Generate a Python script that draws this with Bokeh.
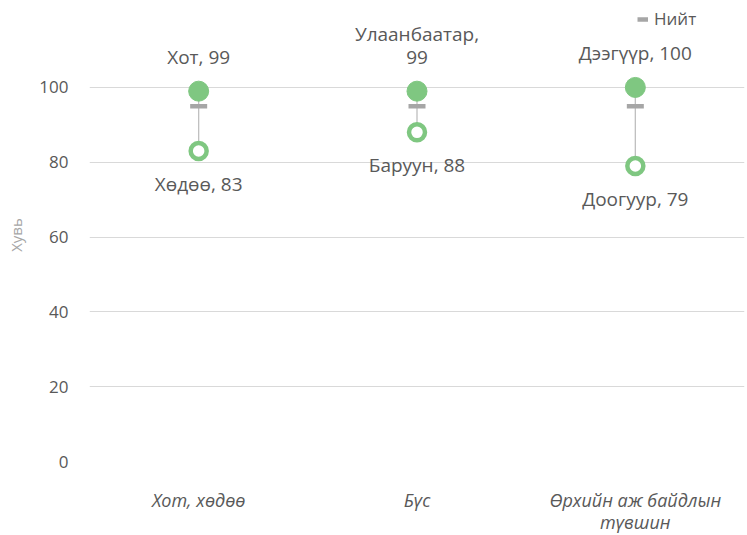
from bokeh.plotting import figure
from bokeh.models import FactorRange, Range1d, FixedTicker, Legend, LegendItem, ColumnDataSource
from bokeh.core.properties import value
from bokeh.embed import file_html
from bokeh.resources import INLINE

categories = ["Хот, хөдөө", "Бүс", "Өрхийн аж байдлын\nтүвшин"]
high_names = ["Хот", "Улаанбаатар,\n", "Дээгүүр"]
high_values = [99, 99, 100]
low_names = ["Хөдөө", "Баруун", "Доогуур"]
low_values = [83, 88, 79]
total_values = [95, 95, 95]
y_ticks = [0, 20, 40, 60, 80, 100]

FONT = "Open Sans"
TXT = "#595959"
GREEN = "#7FC781"

def lab(n, v):
    sep = "" if n.endswith("\n") else ", "
    return f"{n}{sep}{v}"

src = ColumnDataSource(dict(
    cat=categories, hi=high_values, lo=low_values, tot=total_values,
    hi_lab=[lab(n, v) for n, v in zip(high_names, high_values)],
    lo_lab=[lab(n, v) for n, v in zip(low_names, low_values)],
))
# legend proxy: a line with no drawable points
proxy = ColumnDataSource(dict(cat=categories[:1], v=[float("nan")]))

p = figure(x_range=FactorRange(*categories, range_padding=0), y_range=Range1d(0, 121.1),
           frame_width=655, frame_height=453, output_backend="svg", toolbar_location=None,
           min_border_left=89, min_border_right=3, min_border_top=8, min_border_bottom=66)
p.outline_line_color = None
p.background_fill_color = "white"

p.segment(x0="cat", y0="lo", x1="cat", y1="hi", source=src, line_color="#BFBFBF", line_width=1.3)
p.scatter(x="cat", y="tot", source=src, marker="dash", size=17, line_color="#A6A6A6",
          line_width=4.5)
p.scatter(x="cat", y="hi", source=src, marker="circle", size=20, fill_color=GREEN, line_color=GREEN)
p.scatter(x="cat", y="lo", source=src, marker="circle", size=16, fill_color="white",
          line_color=GREEN, line_width=4.5)
r_leg = p.line(x="cat", y="v", source=proxy, line_color="#A6A6A6", line_width=4.5)

p.text(x="cat", y="hi", text="hi_lab", source=src, text_align="center", text_baseline="bottom",
       y_offset=-21, text_font=value(FONT), text_font_size="19px", text_color=TXT,
       text_line_height=0.9)
p.text(x="cat", y="lo", text="lo_lab", source=src, text_align="center", text_baseline="middle",
       y_offset=33, text_font=value(FONT), text_font_size="19px", text_color=TXT)

legend = Legend(items=[LegendItem(label="Нийт", renderers=[r_leg])], location=(548, 431),
                border_line_color=None, background_fill_alpha=0, label_text_font=FONT,
                label_text_font_size="17px", label_text_color=TXT, glyph_width=11,
                label_standoff=6, padding=0, margin=0, spacing=0)
p.add_layout(legend)

p.xgrid.grid_line_color = None
p.ygrid.grid_line_color = "#D9D9D9"
p.ygrid.grid_line_width = 1
p.yaxis.ticker = FixedTicker(ticks=y_ticks)
p.yaxis.axis_line_color = None
p.yaxis.major_tick_line_color = None
p.yaxis.minor_tick_line_color = None
p.yaxis.major_tick_out = 0
p.yaxis.major_tick_in = 0
p.yaxis.minor_tick_out = 0
p.yaxis.major_label_text_font = FONT
p.yaxis.major_label_text_font_size = "17px"
p.yaxis.major_label_text_color = TXT
p.yaxis.major_label_standoff = 21
p.yaxis.axis_label = "Хувь"
p.yaxis.axis_label_text_font = FONT
p.yaxis.axis_label_text_font_size = "15px"
p.yaxis.axis_label_text_font_style = "normal"
p.yaxis.axis_label_text_color = "#A6A6A6"
p.yaxis.axis_label_standoff = 10

p.xaxis.axis_line_color = None
p.xaxis.major_tick_line_color = None
p.xaxis.major_tick_out = 0
p.xaxis.major_tick_in = 0
p.xaxis.major_label_text_font = FONT
p.xaxis.major_label_text_font_size = "18px"
p.xaxis.major_label_text_font_style = "italic"
p.xaxis.major_label_text_color = TXT
p.xaxis.major_label_text_line_height = 0.95
p.xaxis.major_label_standoff = 26
p.xaxis.major_label_orientation = "horizontal"

open("out.html", "w").write(file_html(p, INLINE))
